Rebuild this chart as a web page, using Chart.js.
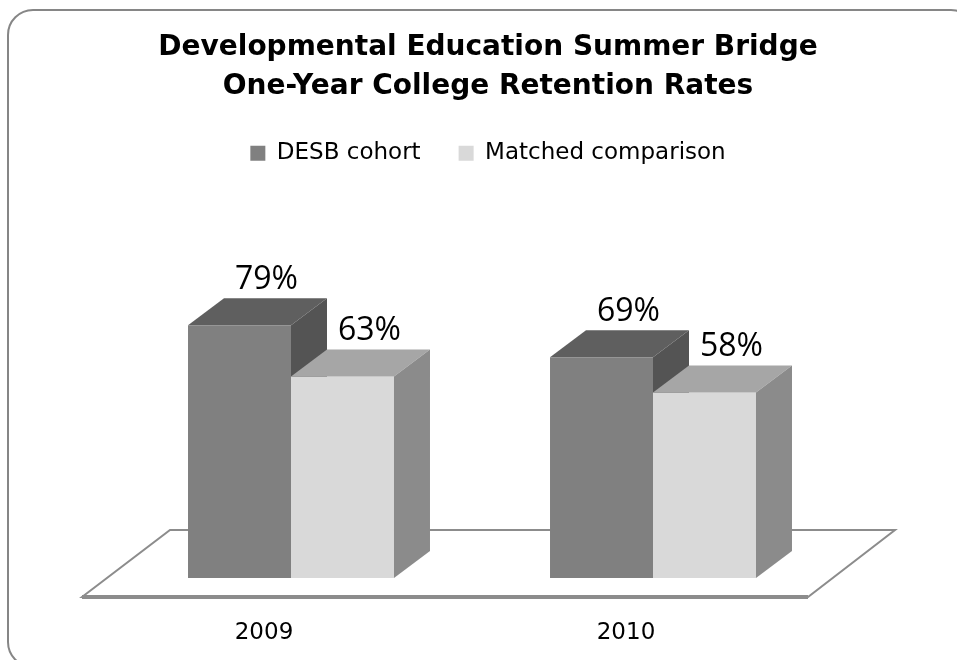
<!DOCTYPE html>
<html lang="en">
<head>
<meta charset="utf-8">
<title>Developmental Education Summer Bridge</title>
<script src="https://cdn.jsdelivr.net/npm/chart.js@4.4.0/dist/chart.umd.min.js"></script>
<style>
    html, body { margin: 0; padding: 0; background: #fff; overflow: hidden; }
    #wrap { position: relative; width: 957px; height: 660px; overflow: hidden; }
    #frame { position: absolute; left: 7px; top: 9px; width: 966px; height: 655px;
             border: 2px solid #868686; border-radius: 26px; pointer-events: none; }
    canvas { position: absolute; left: 0; top: 0; }
</style>
</head>
<body>
<div id="wrap">
    <canvas id="retentionChart" width="957" height="660"></canvas>
    <div id="frame"></div>
</div>
<script>
    const years = ["2009", "2010"];
    const desbCohort = [79, 69];
    const matchedComparison = [63, 58];
    const seriesNames = ["DESB cohort", "Matched comparison"];
    const chartTitle = ["Developmental Education Summer Bridge", "One-Year College Retention Rates"];

    // fake 3d: depth of the bars
    const DEPTH_X = 36;
    const DEPTH_Y = -27;

    const shades = [
        {front: "#808080", top: "#5f5f5f", side: "#545454"},
        {front: "#d9d9d9", top: "#a6a6a6", side: "#8b8b8b"}
    ];

    function drawFaces(ctx, bar, shade) {
        const left = bar.x - bar.width / 2;
        const right = bar.x + bar.width / 2;
        const top = bar.y;
        const base = bar.base;
        ctx.fillStyle = shade.top;
        ctx.beginPath();
        ctx.moveTo(left, top);
        ctx.lineTo(left + DEPTH_X, top + DEPTH_Y);
        ctx.lineTo(right + DEPTH_X, top + DEPTH_Y);
        ctx.lineTo(right, top);
        ctx.closePath();
        ctx.fill();
        ctx.fillStyle = shade.side;
        ctx.beginPath();
        ctx.moveTo(right, top);
        ctx.lineTo(right + DEPTH_X, top + DEPTH_Y);
        ctx.lineTo(right + DEPTH_X, base + DEPTH_Y);
        ctx.lineTo(right, base);
        ctx.closePath();
        ctx.fill();
    }

    const box3d = {
        id: "box3d",
        beforeDatasetsDraw(chart) {
            const {ctx, chartArea} = chart;
            const base = chart.scales.y.getPixelForValue(0);
            ctx.save();
            // floor
            ctx.beginPath();
            ctx.moveTo(chartArea.left - 28, base + 19);
            ctx.lineTo(chartArea.left + 60, base - 48);
            ctx.lineTo(chartArea.right + 61, base - 48);
            ctx.lineTo(chartArea.right - 26, base + 19);
            ctx.closePath();
            ctx.fillStyle = "#ffffff";
            ctx.fill();
            ctx.strokeStyle = "#8c8c8c";
            ctx.lineWidth = 2;
            ctx.stroke();
            ctx.lineWidth = 4;
            ctx.beginPath();
            ctx.moveTo(chartArea.left - 28, base + 19);
            ctx.lineTo(chartArea.right - 26, base + 19);
            ctx.stroke();
            // first series faces go under the second series
            chart.getDatasetMeta(0).data.forEach(bar => drawFaces(ctx, bar, shades[0]));
            ctx.restore();
        },
        afterDatasetsDraw(chart) {
            const {ctx} = chart;
            ctx.save();
            chart.getDatasetMeta(1).data.forEach(bar => drawFaces(ctx, bar, shades[1]));
            // value labels
            ctx.fillStyle = "#000";
            ctx.font = "32px 'Open Sans'";
            ctx.textAlign = "center";
            ctx.textBaseline = "alphabetic";
            chart.data.datasets.forEach((ds, i) => {
                chart.getDatasetMeta(i).data.forEach((bar, j) => {
                    ctx.fillText(ds.data[j] + "%", bar.x + DEPTH_X * 0.75, bar.y + DEPTH_Y - 9);
                });
            });
            ctx.restore();
        }
    };

    new Chart("retentionChart", {
        type: "bar",
        data: {
            labels: years,
            datasets: [
                {label: seriesNames[0], data: desbCohort, backgroundColor: shades[0].front},
                {label: seriesNames[1], data: matchedComparison, backgroundColor: shades[1].front}
            ]
        },
        options: {
            responsive: false,
            animation: false,
            layout: {padding: {left: 110, right: 91, top: 0, bottom: 0}},
            datasets: {bar: {categoryPercentage: 0.569, barPercentage: 1}},
            plugins: {
                title: {
                    display: true,
                    text: chartTitle,
                    color: "#000",
                    font: {family: "DejaVu Sans", size: 28, weight: "bold", lineHeight: 1.39},
                    padding: {top: 28, bottom: -2}
                },
                legend: {
                    display: true,
                    labels: {
                        boxWidth: 15, boxHeight: 15, padding: 38, color: "#000",
                        font: {family: "DejaVu Sans", size: 23}
                    }
                },
                tooltip: {enabled: false}
            },
            scales: {
                x: {
                    grid: {display: false, drawTicks: false},
                    border: {display: false},
                    ticks: {color: "#000", font: {family: "DejaVu Sans", size: 23}, padding: 41, labelOffset: -27},
                    afterFit: scale => { scale.height = 82; }
                },
                y: {
                    position: "right",
                    min: 0, max: 126,
                    grid: {display: false},
                    border: {display: false},
                    ticks: {display: false},
                    afterFit: scale => { scale.width = 32; }
                }
            }
        },
        plugins: [box3d]
    });
</script>
</body>
</html>
